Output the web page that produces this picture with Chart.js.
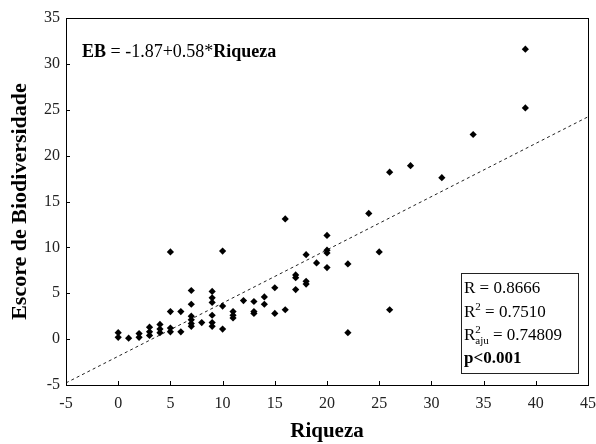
<!DOCTYPE html>
<html>
<head>
<meta charset="utf-8">
<script src="https://cdn.jsdelivr.net/npm/chart.js@4"></script>
<style>
  html, body { margin: 0; padding: 0; background: #fff; }
  #wrap { width: 596px; height: 444px; }
</style>
</head>
<body>
<div id="wrap"><canvas id="chart" width="596" height="444"></canvas></div>
<script>
// Riqueza vs Escore de Biodiversidade
const riqueza = [0,0,1,2,2,3,3,3,4,4,4,5,5,5,5,6,6,7,7,7,7,7,7,8,9,9,9,9,9,9,
  10,10,10,11,11,11,12,13,13,13,14,14,15,15,16,16,17,17,17,18,18,18,19,20,20,20,20,
  22,22,24,25,26,26,28,31,34,39,39];
const escore = [0.7,0.2,0.1,0.6,0.2,1.3,0.8,0.4,1.6,1.1,0.7,9.5,3.0,1.2,0.8,3.0,0.8,
  5.3,3.8,2.5,2.1,1.7,1.4,1.8,5.2,4.5,4.0,2.6,1.8,1.4,9.6,3.6,1.1,3.0,2.6,2.3,4.2,
  4.1,3.0,2.8,4.6,3.8,5.6,2.8,13.1,3.2,7.0,6.7,5.4,9.2,6.3,6.0,8.3,11.3,9.7,9.4,7.8,
  8.2,0.7,13.7,9.5,18.2,3.2,18.9,17.6,22.3,31.6,25.2];

const intercept = -1.87;
const slope = 0.58;
const xRange = [-5, 45];
const yRange = [-5, 35];
const statsLines = ['R = 0.8666', 'R2 = 0.7510', 'R2aju = 0.74809', 'p<0.001'];

const serif = "'Liberation Serif', 'Times New Roman', serif";

const points = riqueza.map((r, i) => ({ x: r, y: escore[i] }));
const fitLine = xRange.map(x => ({ x: x, y: intercept + slope * x }));

// frame, inward ticks, equation and stats box
const extras = {
    id: 'extras',
    afterDraw(chart) {
        const ctx = chart.ctx;
        const a = chart.chartArea;
        const xs = chart.scales.x, ys = chart.scales.y;
        ctx.save();
        ctx.strokeStyle = '#000';
        ctx.lineWidth = 1;
        ctx.beginPath();
        xs.ticks.forEach(t => {
            const px = Math.round(xs.getPixelForValue(t.value)) + 0.5;
            ctx.moveTo(px, a.bottom);
            ctx.lineTo(px, a.bottom - 4);
        });
        ys.ticks.forEach(t => {
            const py = Math.round(ys.getPixelForValue(t.value)) + 0.5;
            ctx.moveTo(a.left, py);
            ctx.lineTo(a.left + 4, py);
        });
        ctx.stroke();
        ctx.strokeRect(Math.round(a.left) + 0.5, Math.round(a.top) + 0.5,
            Math.round(a.right - a.left), Math.round(a.bottom - a.top));

        // equation
        ctx.fillStyle = '#000';
        ctx.textBaseline = 'alphabetic';
        let x = 82;
        const by = 57;
        ctx.font = 'bold 18px ' + serif;
        ctx.fillText('EB', x, by); x += ctx.measureText('EB').width;
        ctx.font = '18px ' + serif;
        const mid = ' = -1.87+0.58*';
        ctx.fillText(mid, x, by); x += ctx.measureText(mid).width;
        ctx.font = 'bold 18px ' + serif;
        ctx.fillText('Riqueza', x, by);

        // stats box
        ctx.fillStyle = '#fff';
        ctx.fillRect(461, 273, 117, 100);
        ctx.strokeStyle = '#222';
        ctx.strokeRect(461.5, 273.5, 117, 100);
        ctx.fillStyle = '#000';
        const tx = 464;
        const base = [293, 317, 340, 363];
        const big = '17px ' + serif, small = '11px ' + serif;
        ctx.font = big;
        ctx.fillText(statsLines[0], tx, base[0]);
        // R^2
        ctx.fillText('R', tx, base[1]);
        let w = ctx.measureText('R').width;
        ctx.font = small; ctx.fillText('2', tx + w, base[1] - 7);
        w += ctx.measureText('2').width;
        ctx.font = big; ctx.fillText(' = 0.7510', tx + w, base[1]);
        // R^2 aju
        ctx.fillText('R', tx, base[2]);
        w = ctx.measureText('R').width;
        ctx.font = small; ctx.fillText('2', tx + w, base[2] - 7);
        ctx.fillText('aju', tx + w, base[2] + 4);
        w += ctx.measureText('aju').width;
        ctx.font = big; ctx.fillText(' = 0.74809', tx + w, base[2]);
        ctx.font = 'bold 17px ' + serif;
        ctx.fillText(statsLines[3], tx, base[3]);
        ctx.restore();
    }
};

new Chart(document.getElementById('chart').getContext('2d'), {
    type: 'scatter',
    data: {
        datasets: [{
            label: 'Escore',
            data: points,
            pointStyle: 'rectRot',
            pointRadius: 3.6,
            backgroundColor: '#000',
            borderColor: '#000',
            borderWidth: 0
        }, {
            label: 'Ajuste',
            type: 'line',
            data: fitLine,
            borderColor: '#222',
            borderWidth: 1,
            borderDash: [3, 3],
            pointRadius: 0,
            fill: false
        }]
    },
    options: {
        responsive: false,
        animation: false,
        layout: { padding: { top: 18, right: 8, left: 0, bottom: 0 } },
        plugins: {
            legend: { display: false },
            tooltip: { enabled: false }
        },
        scales: {
            x: {
                type: 'linear',
                min: xRange[0],
                max: xRange[1],
                grid: { display: false, drawTicks: false },
                border: { display: false },
                ticks: { stepSize: 5, padding: 9, color: '#222', font: { family: serif, size: 16 } },
                title: { display: true, text: 'Riqueza', color: '#000',
                    font: { family: serif, size: 21, weight: 'bold' }, padding: { top: 0, bottom: 0 } },
                afterFit: s => { s.height = 59; s.paddingLeft = 0; s.paddingRight = 0; }
            },
            y: {
                min: yRange[0],
                max: yRange[1],
                grid: { display: false, drawTicks: false },
                border: { display: false },
                ticks: { stepSize: 5, padding: 6, color: '#222', font: { family: serif, size: 16 } },
                title: { display: true, text: 'Escore de Biodiversidade', color: '#000',
                    font: { family: serif, size: 22, weight: 'bold' }, padding: { top: 7, bottom: 0 } },
                afterFit: s => { s.width = 66; s.paddingTop = 0; s.paddingBottom = 0; }
            }
        }
    },
    plugins: [extras]
});
</script>
</body>
</html>
